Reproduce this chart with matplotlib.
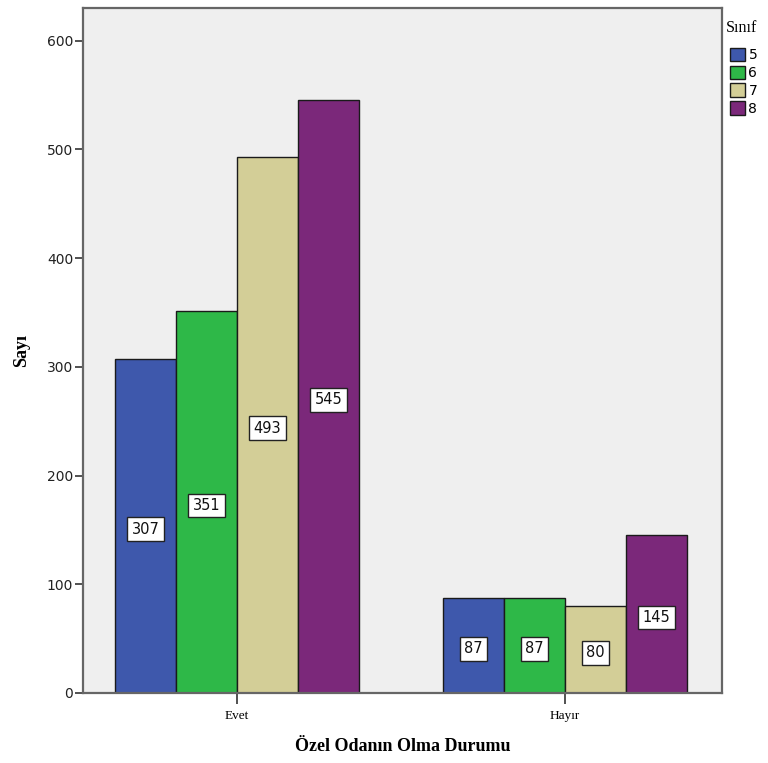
import matplotlib
matplotlib.use('Agg')
import matplotlib.pyplot as plt
import numpy as np
from matplotlib.patches import Patch

# data
groups = ['Evet', 'Hayır']
siniflar = ['5', '6', '7', '8']
sayi_5 = [307, 87]
sayi_6 = [351, 87]
sayi_7 = [493, 80]
sayi_8 = [545, 145]
renkler = ['#3E58AC', '#2EB848', '#D3CE97', '#7B287A']

series = [sayi_5, sayi_6, sayi_7, sayi_8]

fig = plt.figure(figsize=(7.68, 7.63), dpi=100)
ax = fig.add_axes([83/768, 1-693/763, (722-83)/768, (693-8)/763])
ax.set_facecolor('#EFEFEF')

x = np.arange(len(groups))
w = 61/328
for i in range(len(series)):
    pos = x + (i - 1.5) * w
    ax.bar(pos, series[i], width=w, color=renkler[i], edgecolor='#1a1a1a', linewidth=1.0, zorder=2)
    for p, v in zip(pos, series[i]):
        ax.text(p, v/2 - 3, str(v), ha='center', va='center', fontsize=10.5, family='DejaVu Sans',
                color='#111111', zorder=3,
                bbox=dict(boxstyle='square,pad=0.3', fc='white', ec='#222222', lw=1.0))

ax.set_xlim(-0.4695, 1.4787)
ax.set_ylim(0, 630)
ax.set_yticks([0, 100, 200, 300, 400, 500, 600])
ax.set_xticks(x)
ax.set_xticklabels(groups, family='Liberation Serif', fontsize=9.5)
ax.tick_params(axis='y', labelsize=10, length=6, width=1.2, color='#333333', labelcolor='#222222', pad=1)
ax.tick_params(axis='x', length=8, width=1.2, color='#333333', pad=4)
for s in ax.spines.values():
    s.set_color('#666666')
    s.set_linewidth(1.6)

ax.set_ylabel('Sayı', family='Liberation Serif', fontweight='bold', fontsize=13, labelpad=12)
ax.set_xlabel('Özel Odanın Olma Durumu', family='Liberation Serif', fontweight='bold', fontsize=13, labelpad=12)

fig.text(726/768, 1-28/763, 'Sınıf', family='Liberation Serif', fontsize=11.5, ha='left', va='center')
handles = [Patch(facecolor=renkler[i], edgecolor='#1a1a1a', label=siniflar[i]) for i in range(4)]
leg = fig.legend(handles=handles, loc='upper left', bbox_to_anchor=(720/768, 1-38/763),
                 frameon=False, fontsize=10, handlelength=1.1, handleheight=1.1, handletextpad=0.25,
                 labelspacing=0.25, borderpad=0.2)

fig.savefig('out.png', dpi=100)
